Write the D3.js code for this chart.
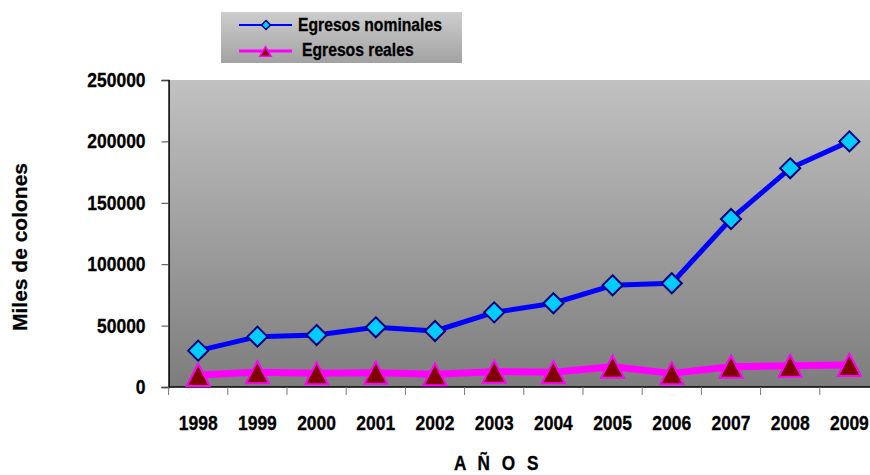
<!DOCTYPE html>
<html><head><meta charset="utf-8">
<script src="https://cdn.jsdelivr.net/npm/d3@7"></script>
<style>
html,body{margin:0;padding:0;background:#fff;overflow:hidden}
svg{display:block}
text{font-family:"Liberation Sans",Arial,sans-serif;font-weight:bold;fill:#000;stroke:#000;stroke-width:0.25px}
</style></head>
<body>
<svg id="c" width="870" height="475"></svg>
<script>
const years = ["1998","1999","2000","2001","2002","2003","2004","2005","2006","2007","2008","2009"];
const nominales = [29600, 41000, 42300, 48600, 45600, 60800, 68200, 82800, 84500, 136800, 178100, 200000];
const reales = [9800, 12000, 11100, 11700, 10300, 12500, 12000, 16500, 11100, 16500, 17300, 17900];
const yTicks = [0, 50000, 100000, 150000, 200000, 250000];
const seriesNames = ["Egresos nominales", "Egresos reales"];

const S = 1.17; // vertical stretch of the original picture's text
const svg = d3.select("#c");
const L = 168.6, R = 879, T = 80, B = 387;

const x = d3.scaleBand().domain(years).range([L, R]).padding(0);
const y = d3.scaleLinear().domain([0, 250000]).range([B, T]);

function stretch(sel){
  sel.each(function(){
    const t = d3.select(this);
    const yy = +t.attr("y") || 0;
    t.attr("y", yy / S).attr("transform", `scale(1,${S})`);
  });
}

const defs = svg.append("defs");
const g1 = defs.append("linearGradient").attr("id","plotbg").attr("x1",0).attr("y1",0).attr("x2",0).attr("y2",1);
g1.append("stop").attr("offset","0%").attr("stop-color","#c1c1c1");
g1.append("stop").attr("offset","100%").attr("stop-color","#7d7d7d");
const g2 = defs.append("linearGradient").attr("id","legbg").attr("x1",0).attr("y1",0).attr("x2",0).attr("y2",1);
g2.append("stop").attr("offset","0%").attr("stop-color","#cdcdcd");
g2.append("stop").attr("offset","100%").attr("stop-color","#a2a2a2");

svg.append("rect").attr("x",L).attr("y",T).attr("width",R-L).attr("height",B-T).attr("fill","url(#plotbg)");

// Y axis
const yAxis = d3.axisLeft(y).tickValues(yTicks).tickSize(7).tickPadding(16).tickFormat(d3.format("d"));
const ya = svg.append("g").attr("transform",`translate(${L},0)`).call(yAxis);
ya.select(".domain").attr("stroke","#000").attr("stroke-width",1.5);
ya.selectAll(".tick line").attr("stroke","#444");
ya.selectAll(".tick text").style("font-size","17.5px").attr("dy",null).attr("y",6.5).call(stretch);

// X axis
const xAxis = d3.axisBottom(x).tickSize(0).tickPadding(0);
const xa = svg.append("g").attr("transform",`translate(0,${B})`).call(xAxis);
xa.select(".domain").remove();
xa.selectAll(".tick text").style("font-size","17.5px").attr("dy",null).attr("y",43).call(stretch);
svg.append("line").attr("x1",L).attr("x2",R).attr("y1",B).attr("y2",B).attr("stroke","#000").attr("stroke-width",1.5);
const bounds = years.map(d => x(d)).concat([R]);
svg.append("g").selectAll("line").data(bounds).join("line")
  .attr("x1",d=>d).attr("x2",d=>d).attr("y1",B).attr("y2",B+8).attr("stroke","#777");

// lines
const cx = d => x(d) + x.bandwidth()/2;
const lineGen = vals => d3.line().x((d,i)=>cx(years[i])).y(d=>y(d))(vals);
svg.append("path").attr("d",lineGen(reales)).attr("fill","none").attr("stroke","#ff00ff").attr("stroke-width",7).attr("stroke-linejoin","round");
svg.append("path").attr("d",lineGen(nominales)).attr("fill","none").attr("stroke","#0000ff").attr("stroke-width",5).attr("stroke-linejoin","round");

const diamond = (r) => `M0,${-r}L${r},0L0,${r}L${-r},0Z`;
const tri = (w,h) => `M0,${-h/2}L${w/2},${h/2}L${-w/2},${h/2}Z`;

svg.append("g").selectAll("path").data(reales).join("path")
  .attr("transform",(d,i)=>`translate(${cx(years[i])},${y(d)})`)
  .attr("d",tri(23,22)).attr("fill","#800000").attr("stroke","#ff00ff").attr("stroke-width",2);
svg.append("g").selectAll("path").data(nominales).join("path")
  .attr("transform",(d,i)=>`translate(${cx(years[i])},${y(d)})`)
  .attr("d",diamond(10)).attr("fill","#00ccff").attr("stroke","#000080").attr("stroke-width",2);

// legend
svg.append("rect").attr("x",221).attr("y",12).attr("width",241).attr("height",51).attr("fill","url(#legbg)");
svg.append("line").attr("x1",239).attr("x2",292).attr("y1",25).attr("y2",25).attr("stroke","#0000ff").attr("stroke-width",2.2);
svg.append("path").attr("transform","translate(266,25)").attr("d",diamond(4.5)).attr("fill","#00ccff").attr("stroke","#000080").attr("stroke-width",1.5);
svg.append("text").attr("x",298).attr("y",31.5).style("font-size","15.7px").text(seriesNames[0]).call(stretch);
svg.append("line").attr("x1",239).attr("x2",292).attr("y1",51).attr("y2",51).attr("stroke","#ff00ff").attr("stroke-width",2.8);
svg.append("path").attr("transform","translate(265.5,51.5)").attr("d",tri(11.5,9.5)).attr("fill","#800000").attr("stroke","#ff00ff").attr("stroke-width",1.5);
svg.append("text").attr("x",302).attr("y",56.5).style("font-size","15.7px").text(seriesNames[1]).call(stretch);

// axis titles
svg.append("text").attr("transform","translate(27,247) rotate(-90)").attr("text-anchor","middle").style("font-size","21px").text("Miles de colones");
svg.append("text").attr("x",498).attr("y",470.5).attr("text-anchor","middle").style("font-size","17.2px").style("letter-spacing","3.5px").text("A Ñ O S").call(stretch);
</script>
</body></html>
